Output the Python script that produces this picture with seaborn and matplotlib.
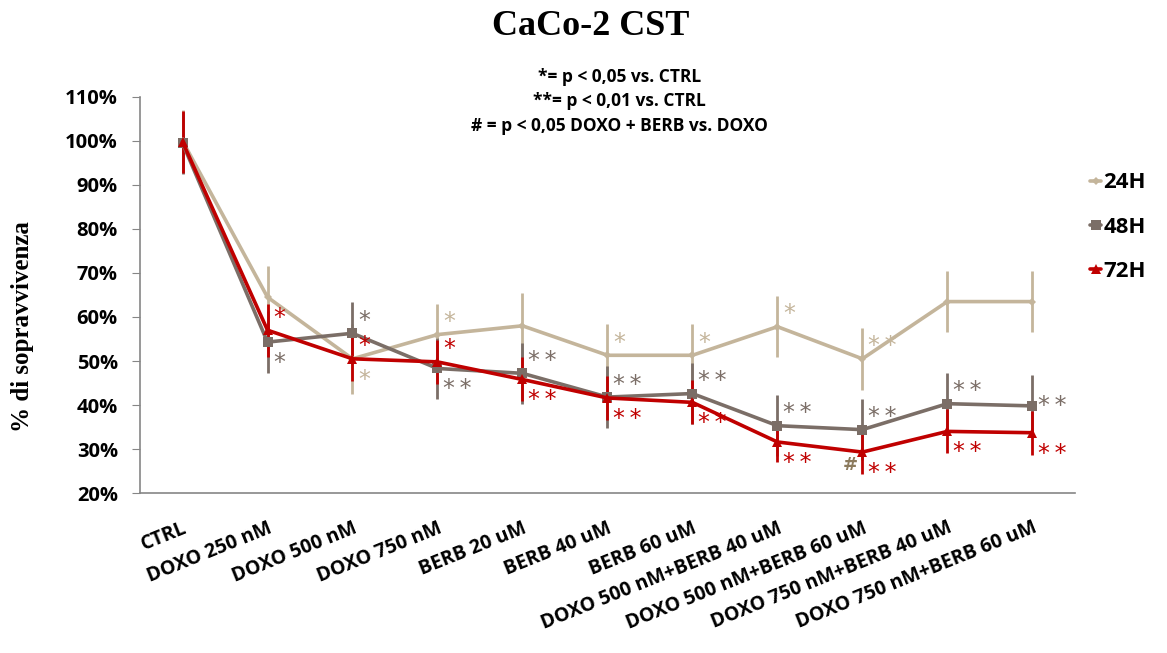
import numpy as np
import pandas as pd
import seaborn as sns
import matplotlib.pyplot as plt

# Data (% survival)
categories = ['CTRL', 'DOXO 250 nM', 'DOXO 500 nM', 'DOXO 750 nM', 'BERB 20 uM',
              'BERB 40 uM', 'BERB 60 uM', 'DOXO 500 nM+BERB 40 uM',
              'DOXO 500 nM+BERB 60 uM', 'DOXO 750 nM+BERB 40 uM',
              'DOXO 750 nM+BERB 60 uM']
series_names = ['24H', '48H', '72H']

values_24h = [100, 64.5, 50.5, 56.0, 58.0, 51.3, 51.3, 57.8, 50.5, 63.5, 63.5]
values_48h = [99.5, 54.3, 56.3, 48.3, 47.2, 41.8, 42.6, 35.3, 34.4, 40.3, 39.8]
values_72h = [99.8, 57.0, 50.5, 49.8, 45.8, 41.6, 40.6, 31.6, 29.3, 34.0, 33.7]

err_24h = [7, 7, 8, 7, 7.5, 7, 7, 7, 7, 7, 7]
err_48h = [7, 7, 7, 7, 7, 7, 7, 7, 7, 7, 7]
err_72h = [7, 6, 5, 5, 5, 5, 5, 4.5, 5, 5, 5]

# significance marks: (label, 'up'/'down') per category, None if no mark
marks_24h = [None, None, ('*', 'down'), ('*', 'up'), None, ('*', 'up'), ('*', 'up'),
             ('*', 'up'), ('**', 'up'), None, None]
marks_48h = [None, ('*', 'down'), ('*', 'up'), ('**', 'down'), ('**', 'up'), ('**', 'up'),
             ('**', 'up'), ('**', 'up'), ('**', 'up'), ('**', 'up'), ('**', 'mid')]
marks_72h = [None, ('*', 'up'), ('*', 'up'), ('*', 'up'), ('**', 'down'), ('**', 'down'),
             ('**', 'down'), ('**', 'down'), ('**', 'down'), ('**', 'down'), ('**', 'down')]
hash_category = 'DOXO 500 nM+BERB 60 uM'

colors = {'24H': '#C4B59B', '48H': '#7B6E67', '72H': '#C00000'}
markers = {'24H': 'D', '48H': 's', '72H': '^'}

df = pd.DataFrame({
    'pos': list(range(len(categories))) * 3,
    'value': values_24h + values_48h + values_72h,
    'err': err_24h + err_48h + err_72h,
    'time': [s for s in series_names for _ in categories],
})

sns.set_style('white')
plt.rcParams['font.family'] = ['Open Sans', 'DejaVu Sans']
plt.rcParams['text.color'] = 'black'
plt.rcParams['axes.labelcolor'] = 'black'

fig = plt.figure(figsize=(11.67, 6.53), dpi=100)
ax = fig.add_axes([0.12, 0.245, 0.801, 0.6065])

marker_sizes = {'24H': 4, '48H': 7, '72H': 7}
for name in series_names:
    sub = df[df['time'] == name]
    ax.errorbar(sub['pos'], sub['value'], yerr=sub['err'], fmt='none',
                ecolor=colors[name], elinewidth=2, capsize=0, zorder=2)
    sns.lineplot(data=sub, x='pos', y='value', color=colors[name], lw=2.6,
                 marker=markers[name], markersize=marker_sizes[name],
                 markeredgewidth=0, ax=ax, label=name, zorder=3)

# significance asterisks
for name, vals, marks in [('24H', values_24h, marks_24h),
                          ('48H', values_48h, marks_48h),
                          ('72H', values_72h, marks_72h)]:
    for i, m in enumerate(marks):
        if m is None:
            continue
        label, where = m
        label = label.replace('**', '*\u2009*')
        dy = {'up': 9, 'down': -15, 'mid': 0}[where]
        ax.annotate(label, (i, vals[i]), xytext=(4, dy), textcoords='offset points',
                    ha='left', va='center', color=colors[name], fontsize=17,
                    family='DejaVu Sans')
hi = categories.index(hash_category)
ax.annotate('#', (hi, values_72h[hi]), xytext=(-3, -9), textcoords='offset points',
            ha='right', va='center', color='#8C7B5E', fontsize=13, fontweight='bold',
            family='DejaVu Sans')

ax.set_xlim(-0.5, len(categories) - 0.5)
ax.set_ylim(20, 110)
ax.set_yticks(np.arange(20, 111, 10))
ax.set_yticklabels([f'{v}%' for v in range(20, 111, 10)], fontsize=14.5, fontweight='bold')
ax.set_xticks(range(len(categories)))
ax.set_xticklabels(categories, rotation=22, ha='right', va='top',
                   rotation_mode='anchor', fontsize=14, fontweight='bold')
ax.set_xticks(np.arange(-0.5, len(categories), 1), minor=True)
ax.tick_params(axis='x', which='major', length=0, pad=18, labelcolor='black')
ax.tick_params(axis='x', which='minor', length=6, color='#868686', direction='out')
ax.tick_params(axis='y', length=6, color='#868686', direction='out', left=True, pad=10,
               labelcolor='black')
ax.set_xlabel('')
ax.set_ylabel('% di sopravvivenza', family='Liberation Serif', fontweight='bold',
              fontsize=18)
ax.yaxis.set_label_coords(-0.113, 0.42)

for side in ['top', 'right']:
    ax.spines[side].set_visible(False)
for side in ['left', 'bottom']:
    ax.spines[side].set_color('#868686')
    ax.spines[side].set_linewidth(1.2)

leg = ax.legend(loc='upper left', bbox_to_anchor=(0.995, 0.86), frameon=False,
                handlelength=0.5, handletextpad=0.1, labelspacing=1.05,
                prop={'weight': 'bold', 'size': 16})

fig.text(0.506, 0.96, 'CaCo-2 CST', ha='center', va='center', family='Liberation Serif',
         fontweight='bold', fontsize=26)
fig.text(0.531, 0.845, '*= p < 0,05 vs. CTRL\n**= p < 0,01 vs. CTRL\n# = p < 0,05 DOXO + BERB vs. DOXO',
         ha='center', va='center', fontsize=12.5, fontweight='bold', linespacing=1.45)

fig.savefig('out.png', dpi=100)
